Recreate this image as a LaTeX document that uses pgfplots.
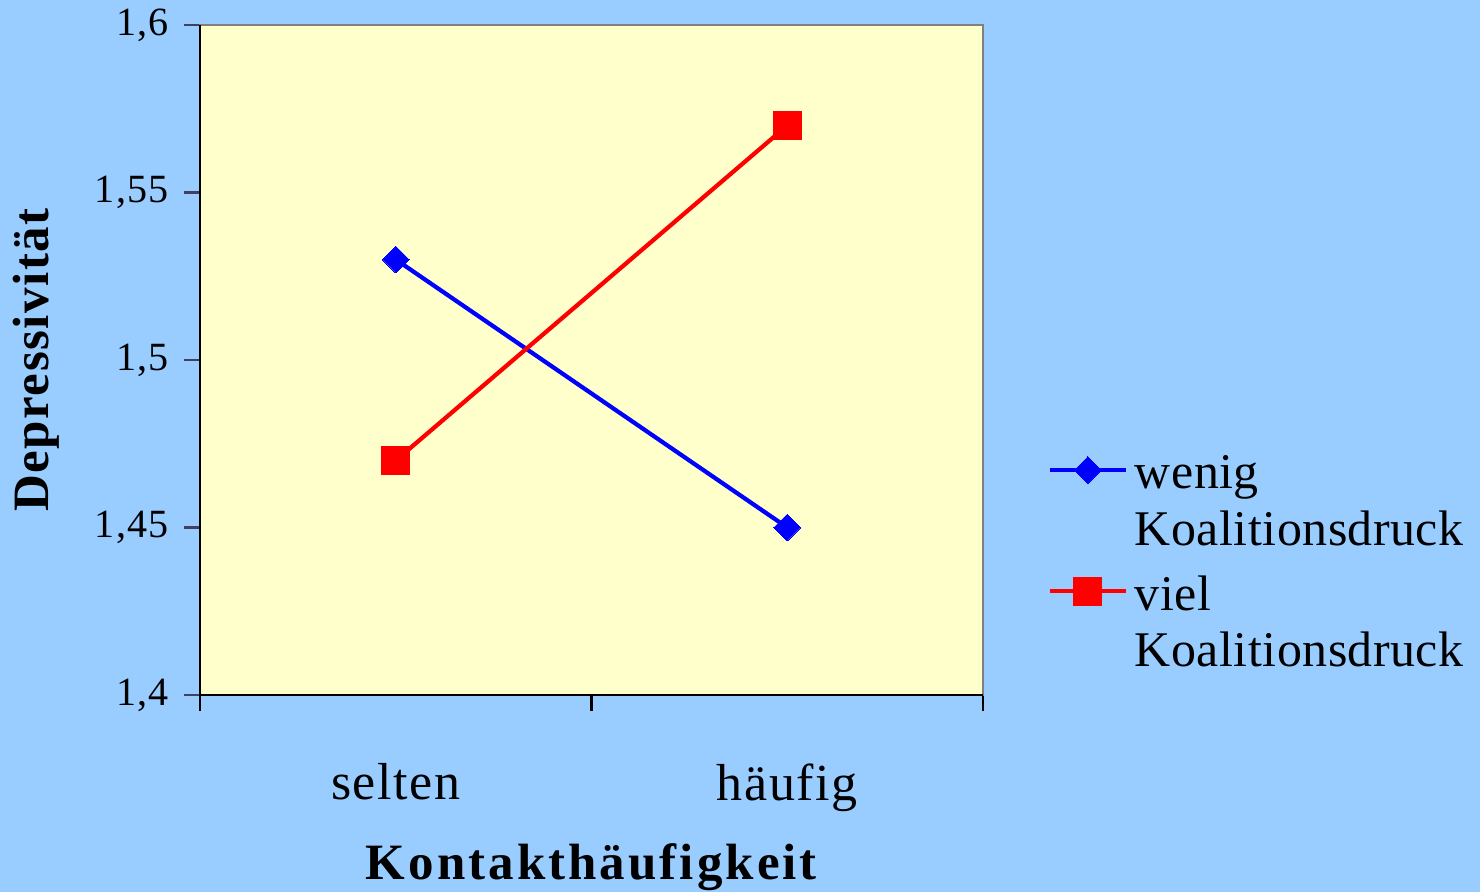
\documentclass[border=0pt]{standalone}
\usepackage{fontspec}
\setmainfont{Liberation Serif}[LetterSpace=3]
\usepackage{pgfplots}
\pgfplotsset{compat=1.18}
\definecolor{bgblue}{HTML}{99CCFF}
\definecolor{plotyellow}{HTML}{FFFFCC}
\definecolor{axgray}{HTML}{808080}
\definecolor{tickslate}{HTML}{404060}

\begin{document}
\begin{tikzpicture}
  % slide background
  \fill[bgblue] (-2.0cm,-1.97cm) rectangle (12.8cm,6.95cm);
  \begin{axis}[
    at={(0,0)}, anchor=south west,
    scale only axis, width=7.83cm, height=6.7cm,
    xmin=0, xmax=2, ymin=1.4, ymax=1.6,
    axis background/.style={fill=plotyellow},
    axis line style={axgray, line width=0.6pt},
    tick align=outside, major tick length=1.6mm,
    xtick pos=bottom, ytick pos=left,
    xtick={0,1,2}, xticklabels={,,},
    x tick style={black, line width=0.6pt},
    extra x ticks={0.5,1.5}, extra x tick labels={selten,häufig},
    extra x tick style={major tick length=0pt,
      xticklabel style={font=\fontsize{14.8}{17}\selectfont, yshift=-5.6mm}},
    ytick={1.4,1.45,1.5,1.55,1.6},
    y tick style={tickslate, line width=0.6pt},
    /pgf/number format/use comma,
    /pgf/number format/fixed,
    /pgf/number format/precision=2,
    /pgf/number format/assume math mode=true,
    yticklabel style={font=\fontsize{11.4}{13.7}\selectfont, xshift=-0.3mm},
    xlabel={Kontakthäufigkeit},
    xlabel style={font=\bfseries\fontsize{14.5}{17}\selectfont\addfontfeature{LetterSpace=6},
      at={(axis description cs:0.5,-0.276)}, anchor=base},
    ylabel={Depressivität},
    ylabel style={font=\bfseries\fontsize{14.5}{17}\selectfont,
      at={(axis description cs:-0.209,0.5)}, anchor=center},
    legend style={draw=none, fill=none, at={(1.0818,0.358)}, anchor=north west,
      inner sep=0pt, column sep=0.7mm, row sep=2.5mm,
      font=\fontsize{14.2}{16}\selectfont\addfontfeature{LetterSpace=1},
      nodes={inner sep=0pt, align=left},
      cells={anchor=base west}},
    % marker sits on the first text line (base anchor is the last line)
    legend image code/.code={
      \draw[mark repeat=2, mark phase=2, #1]
        plot coordinates {(0mm,7.5mm) (3.8mm,7.5mm) (7.6mm,7.5mm)};},
    clip=false,
  ]
    \addplot[blue, line width=1.2pt, mark=square*, mark size=0.95mm,
      mark options={rotate=45, fill=blue, draw=blue, line width=0pt}]
      coordinates {(0.5,1.53) (1.5,1.45)};
    \addlegendentry{wenig\\Koalitionsdruck}
    \addplot[red, line width=1.2pt, mark=square*, mark size=1.4mm,
      mark options={fill=red, draw=red, line width=0pt}]
      coordinates {(0.5,1.47) (1.5,1.57)};
    \addlegendentry{viel\\Koalitionsdruck}
  \end{axis}
  % left and bottom axis lines in black
  \draw[black, line width=0.6pt] (0,6.7cm) -- (0,0) -- (7.83cm,0);
  \pgfresetboundingbox
  \path (-2.0cm,-1.97cm) rectangle (12.8cm,6.95cm);
\end{tikzpicture}
\end{document}
